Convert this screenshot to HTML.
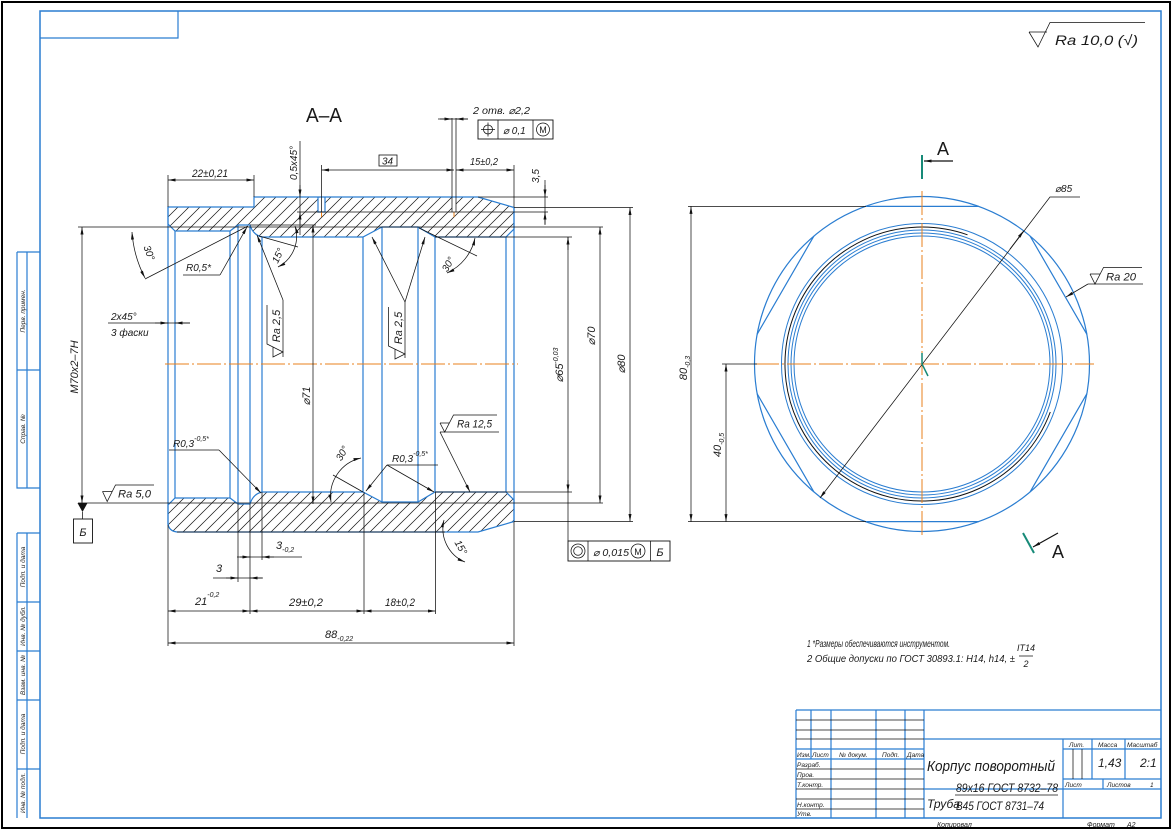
<!DOCTYPE html>
<html><head><meta charset="utf-8"><style>
html,body{margin:0;padding:0;background:#fff;}
svg{display:block;}
text{font-family:"Liberation Sans",sans-serif;font-style:italic;fill:#1a1a1a;}
.up{font-style:normal;}
.b{stroke:#2a7dd1;fill:none;stroke-width:1.2;}
.bt{stroke:#2a7dd1;fill:none;stroke-width:1;}
.k{stroke:#111;fill:none;stroke-width:0.75;}
.o{stroke:#e8801e;fill:none;stroke-width:1;stroke-dasharray:24 3 2 3;}
.t{stroke:#178a78;fill:none;stroke-width:2;}
.d{marker-start:url(#a);marker-end:url(#a);}
.de{marker-end:url(#a);}
.ds{marker-start:url(#a);}
</style></head><body>
<svg width="1172" height="830" viewBox="0 0 1172 830" xmlns="http://www.w3.org/2000/svg">
<defs>
<marker id="a" viewBox="0 0 10 4" refX="10" refY="2" markerWidth="8" markerHeight="3" orient="auto-start-reverse" markerUnits="userSpaceOnUse"><path d="M0,0L10,2L0,4z" fill="#111"/></marker>
<pattern id="h" patternUnits="userSpaceOnUse" width="11" height="11"><path d="M0,11L11,0M-2,2L2,-2M9,13L13,9" stroke="#111" stroke-width="0.7"/></pattern>
</defs>

<!-- frames -->
<rect x="2" y="2" width="1168" height="826" fill="none" stroke="#000" stroke-width="2"/>
<rect x="40" y="11" width="1121" height="807" fill="none" stroke="#2a7dd1" stroke-width="1.5"/>
<polyline points="40,38 178,38 178,11" class="b"/>

<!-- left strip -->
<path class="b" d="M17,252V488H40M17,252H40M27,252V488M17,370H40M17,533V818M17,533H40M27,533V818M17,602H40M17,651H40M17,700H40M17,769H40"/>
<g font-size="6.5">
<text transform="translate(25,311) rotate(-90)" text-anchor="middle">Перв. примен.</text>
<text transform="translate(25,429) rotate(-90)" text-anchor="middle">Справ. №</text>
<text transform="translate(25,567) rotate(-90)" text-anchor="middle">Подп. и дата</text>
<text transform="translate(25,626) rotate(-90)" text-anchor="middle">Инв. № дубл.</text>
<text transform="translate(25,675) rotate(-90)" text-anchor="middle">Взам. инв. №</text>
<text transform="translate(25,734) rotate(-90)" text-anchor="middle">Подп. и дата</text>
<text transform="translate(25,793) rotate(-90)" text-anchor="middle">Инв. № подл.</text>
</g>

<!-- top right Ra -->
<path class="k" stroke-width="0.9" d="M1029,32H1047M1029,32L1038,47L1050,22.5H1145"/>
<text x="1055" y="45" font-size="14" textLength="83" lengthAdjust="spacingAndGlyphs">Ra 10,0 (√)</text>

<!-- ===== SECTION A-A ===== -->
<text class="up" x="306" y="122" font-size="20" textLength="36" lengthAdjust="spacingAndGlyphs">А–А</text>

<path d="M168,207H254V197H478L514,207.5V229L506,237H435L418,227H382L363,237H262Q253,235 250,225H238L230,231H175L168,224Z" fill="url(#h)"/>
<path d="M168,505L175,498H230L238,504H250Q253,494 262,492H363L382,502H418L435,492H506L514,500V521.5L478,532H177Q169,531 168,524Z" fill="url(#h)"/>
<rect x="318" y="197.6" width="7" height="14.4" fill="#fff"/>
<rect x="452" y="197.6" width="4" height="14.4" fill="#fff"/>

<path class="b" d="M168,207H254V197H478L514,207.5V229L506,237H435L418,227H382L363,237H262Q253,235 250,225H238L230,231H175L168,224Z"/>
<path class="b" d="M168,505L175,498H230L238,504H250Q253,494 262,492H363L382,502H418L435,492H506L514,500V521.5L478,532H177Q169,531 168,524Z"/>
<path class="b" d="M168,207V525M175,231V498M230,231V498M238,225V504M250,225V504M262,237V492M363,237V492M382,227V502M418,227V502M435,237V492M506,237V492M514,207.5V521.5"/>
<path class="b" d="M318,197V212H325V197"/>
<path class="k" d="M177,532H445"/>
<path class="o" d="M165,364H518"/>
<path stroke="#e8801e" stroke-width="1" d="M321.5,212V217M454,212V217"/>

<!-- top dims -->
<path class="k" d="M168,175V207M254,175V197"/>
<path class="k d" d="M168,180H254"/>
<text x="192" y="177" font-size="11" textLength="36" lengthAdjust="spacingAndGlyphs">22±0,21</text>

<path class="k" d="M300,141V235"/>
<path class="k de" d="M300,185V197"/>
<path class="k de" d="M300,224V212"/>
<text transform="translate(297,163) rotate(-90)" text-anchor="middle" font-size="10">0,5x45°</text>

<path class="k" d="M321.5,165V212M452,118V212M456,118V212"/>
<path class="k d" d="M321.5,170H454"/>
<rect x="379" y="155" width="18" height="11" fill="none" stroke="#111" stroke-width="0.8"/>
<text x="382" y="164.5" font-size="10">34</text>
<path class="k" d="M514,165V207"/>
<path class="k d" d="M456,170H514"/>
<text x="470" y="165" font-size="10" textLength="28" lengthAdjust="spacingAndGlyphs">15±0,2</text>

<path class="k" d="M478,197H548M297,212H548M514,207.5H633"/>
<path class="k" d="M545,180V225"/>
<path class="k de" d="M545,185V197"/>
<path class="k de" d="M545,224V212"/>
<text transform="translate(539,176) rotate(-90)" text-anchor="middle" font-size="10">3,5</text>

<!-- hole callout -->
<text x="473" y="114" font-size="10" textLength="57" lengthAdjust="spacingAndGlyphs">2 отв. ⌀2,2</text>
<path class="k" d="M438,119H468"/>
<path class="k de" d="M440,119H452"/>
<path class="k de" d="M468,119H456"/>
<rect x="478" y="120" width="75" height="19" fill="none" stroke="#111" stroke-width="0.9"/>
<path class="k" d="M498,120V139M533,120V139"/>
<circle cx="488" cy="129.5" r="4.5" class="k"/>
<path class="k" d="M481,129.5H495M488,122.5V136.5"/>
<text x="503" y="134" font-size="10">⌀ 0,1</text>
<circle cx="543" cy="129.5" r="6.5" class="k"/>
<text x="543" y="133" font-size="9" text-anchor="middle" class="up">M</text>

<!-- M70 & datum -->
<path class="k" d="M78,227H603M78,503H603"/>
<path class="k d" d="M82,227V503"/>
<text transform="translate(78,367) rotate(-90)" text-anchor="middle" font-size="11">M70x2–7H</text>
<path d="M77.5,503H87.5L82.5,512Z" fill="#111"/>
<path class="k" d="M82.5,512V519"/>
<rect x="73.5" y="519" width="19" height="24" fill="none" stroke="#111" stroke-width="0.9"/>
<text x="83" y="536" font-size="11" text-anchor="middle">Б</text>

<!-- Ra 5,0 -->
<path class="k" stroke-width="0.9" d="M102.5,491.5H112M102.5,491.5L107.2,501.5L115.5,485H154"/>
<text x="118" y="497.5" font-size="11" textLength="33" lengthAdjust="spacingAndGlyphs">Ra 5,0</text>

<!-- 2x45 -->
<text x="111" y="320" font-size="10">2x45°</text>
<text x="111" y="336" font-size="10">3 фаски</text>
<path class="k" d="M108,323H190"/>
<path class="k de" d="M155,323H168"/>
<path class="k de" d="M190,323H175"/>

<!-- 30° left -->
<path class="k d" d="M132,232A116,116 0 0 0 145,278"/>
<path class="k" d="M145,279L248,226"/>
<text transform="translate(146,254) rotate(70)" text-anchor="middle" font-size="10">30°</text>
<!-- R0,5* -->
<text x="186" y="271" font-size="10">R0,5*</text>
<path class="k" d="M183,275H220"/>
<path class="k de" d="M220,275L247,227"/>

<!-- 15° top -->
<path class="k" d="M259,236L298,247"/>
<path class="k d" d="M295,226A34.5,34.5 0 0 1 278,267"/>
<text transform="translate(281,257) rotate(-65)" text-anchor="middle" font-size="10">15°</text>

<!-- Ra 2,5 left -->
<path class="k de" d="M283,300L257,235"/>
<path class="k" d="M283,300V357"/>
<path class="k" stroke-width="0.9" d="M273,347V357L283,352L267,344V305"/>
<text transform="translate(280,326) rotate(-90)" text-anchor="middle" font-size="11">Ra 2,5</text>

<!-- Ra 2,5 right -->
<path class="k de" d="M405,302L372,237"/>
<path class="k de" d="M405,302L425,237"/>
<path class="k" d="M405,302V358"/>
<path class="k" stroke-width="0.9" d="M395,349V359L405,354L388.5,346V307"/>
<text transform="translate(402,328) rotate(-90)" text-anchor="middle" font-size="11">Ra 2,5</text>

<!-- 30° right top -->
<path class="k" d="M419,228L477,256"/>
<path class="k d" d="M475,238A50,50 0 0 1 447,273"/>
<text transform="translate(451,266) rotate(-60)" text-anchor="middle" font-size="10">30°</text>

<!-- Ra 12,5 -->
<path class="k" stroke-width="0.9" d="M440,423H449.5M440,423L444.7,432L453.5,415H497"/>
<path class="k" d="M440,432H499"/>
<path class="k de" d="M440,432L470,492"/>
<text x="457" y="427.5" font-size="11" textLength="35" lengthAdjust="spacingAndGlyphs">Ra 12,5</text>

<!-- R0,3 left -->
<text x="173" y="447" font-size="10">R0,3<tspan font-size="7" dy="-6">-0,5*</tspan></text>
<path class="k" d="M169,450H219"/>
<path class="k de" d="M219,450L261,493"/>

<!-- 30° bottom -->
<path class="k" d="M333,475L363,492"/>
<path class="k d" d="M361,458A39,39 0 0 0 331,502"/>
<text transform="translate(345,455) rotate(-60)" text-anchor="middle" font-size="10">30°</text>

<!-- R0,3 middle -->
<text x="392" y="462" font-size="10">R0,3<tspan font-size="7" dy="-6">-0,5*</tspan></text>
<path class="k" d="M387,465H438"/>
<path class="k de" d="M387,465L366,491"/>
<path class="k de" d="M387,465L434,492"/>

<!-- Ø71 -->
<path class="k" d="M250,225H316"/>
<path class="k d" d="M313,225V504"/>
<text transform="translate(310,396) rotate(-90)" text-anchor="middle" font-size="11">⌀71</text>

<!-- Ø65, Ø70, Ø80 -->
<path class="k" d="M435,237H572M435,492H572M514,521.5H633"/>
<path class="k" d="M568,237V541"/>
<path class="k de" d="M568,250V237"/>
<path class="k de" d="M568,480V492"/>
<text transform="translate(563,365) rotate(-90)" text-anchor="middle" font-size="11">⌀65<tspan font-size="7" dy="-5">-0,03</tspan></text>
<path class="k d" d="M600,227V503"/>
<text transform="translate(595,336) rotate(-90)" text-anchor="middle" font-size="11">⌀70</text>
<path class="k d" d="M630,207.5V521.5"/>
<text transform="translate(625,364) rotate(-90)" text-anchor="middle" font-size="11">⌀80</text>

<!-- bottom FCF -->
<rect x="568" y="541" width="102" height="20" fill="none" stroke="#111" stroke-width="0.9"/>
<path class="k" d="M588,541V561M650.5,541V561"/>
<circle cx="578" cy="551" r="7" class="k"/>
<circle cx="578" cy="551" r="4.3" class="k"/>
<text x="593" y="556" font-size="10" textLength="36" lengthAdjust="spacingAndGlyphs">⌀ 0,015</text>
<circle cx="638" cy="551" r="7" class="k"/>
<text x="638" y="555" font-size="9" text-anchor="middle" class="up">M</text>
<text x="660" y="556" font-size="11" text-anchor="middle">Б</text>

<!-- 15° bottom -->
<path class="k d" d="M444,520A36,36 0 0 0 465,562"/>
<text transform="translate(458,549) rotate(60)" text-anchor="middle" font-size="10">15°</text>

<!-- bottom dims -->
<path class="k" d="M168,525V646M238,504V582M250,504V614M262,492V560M364,492V614M435.5,492V614M514,521.5V646"/>
<path class="k d" d="M168,611H250"/>
<path class="k d" d="M250,611H364"/>
<path class="k d" d="M364,611H435.5"/>
<path class="k d" d="M168,643H514"/>
<text x="195" y="605" font-size="11">21<tspan font-size="7" dy="-8">-0,2</tspan></text>
<text x="289" y="606" font-size="11" textLength="34" lengthAdjust="spacingAndGlyphs">29±0,2</text>
<text x="385" y="606" font-size="11" textLength="30" lengthAdjust="spacingAndGlyphs">18±0,2</text>
<text x="325" y="638" font-size="11">88<tspan font-size="7" dy="3">-0,22</tspan></text>
<path class="k" d="M213,578H263"/>
<path class="k de" d="M226,578H238"/>
<path class="k de" d="M262,578H250"/>
<text x="216" y="572" font-size="11">3</text>
<path class="k" d="M237,557H302"/>
<path class="k de" d="M240,557H250"/>
<path class="k de" d="M274,557H262"/>
<text x="276" y="549" font-size="11">3<tspan font-size="7" dy="3">-0,2</tspan></text>

<!-- ===== CIRCLE VIEW ===== -->
<circle cx="922" cy="364" r="167.5" class="b"/>
<path class="b" d="M865.3,206.4H978.7M1030.1,236.1L1086.9,334.3M1086.9,393.7L1030.1,491.9M978.7,521.6H865.3M813.9,491.9L757.1,393.7M757.1,334.3L813.9,236.1"/>
<circle cx="922" cy="364" r="140.5" class="bt"/>
<circle cx="922" cy="364" r="134" class="bt"/>
<circle cx="922" cy="364" r="131" class="bt"/>
<circle cx="922" cy="364" r="128" class="bt"/>
<path stroke="#111" fill="none" stroke-width="1" d="M1050.3,412A137,137 0 1 1 967.5,234.8"/>
<path class="o" d="M755,364H1094M922,191V537"/>

<!-- 80 and 40 dims -->
<path class="k" d="M688,206.4H866M688,521.6H866M722,364H757"/>
<path class="k d" d="M691,206.4V521.6"/>
<text transform="translate(687,368) rotate(-90)" text-anchor="middle" font-size="11">80<tspan font-size="7" dy="3">-0,3</tspan></text>
<path class="k d" d="M726,364V521.6"/>
<text transform="translate(721,445) rotate(-90)" text-anchor="middle" font-size="11">40<tspan font-size="7" dy="3">-0,5</tspan></text>

<!-- Ø85 -->
<path class="k ds" d="M820,498L1050,197H1080"/>
<path class="k de" d="M1010,249L1023.7,230.8"/>
<text x="1055" y="192" font-size="10">⌀85</text>

<!-- Ra 20 -->
<path class="k" stroke-width="0.9" d="M1090,274H1100M1090,274L1095,284L1103.5,267.5H1142"/>
<path class="k" d="M1088,284H1143"/>
<path class="k de" d="M1088,284L1066,297"/>
<text x="1106" y="280.5" font-size="11" textLength="30" lengthAdjust="spacingAndGlyphs">Ra 20</text>

<!-- section marks -->
<path class="t" d="M922,155V179"/>
<path stroke="#111" stroke-width="1.2" class="de" d="M953,161H924"/>
<text class="up" x="937" y="155" font-size="18">А</text>
<path class="t" d="M1023,533L1034,553"/>
<path stroke="#111" stroke-width="1.2" class="de" d="M1058,533L1033,547"/>
<text class="up" x="1052" y="558" font-size="18">А</text>
<path stroke="#178a78" stroke-width="1.5" fill="none" d="M922,353V364L928,376"/>

<!-- notes -->
<text x="807" y="647" font-size="10.5" textLength="143" lengthAdjust="spacingAndGlyphs">1  *Размеры обеспечиваются инструментом.</text>
<text x="807" y="662" font-size="10.5" textLength="208" lengthAdjust="spacingAndGlyphs">2  Общие допуски по ГОСТ 30893.1: H14, h14, ±</text>
<text x="1026" y="651" font-size="9" text-anchor="middle">IT14</text>
<path class="k" d="M1019,656H1033"/>
<text x="1026" y="667" font-size="9" text-anchor="middle">2</text>

<!-- ===== TITLE BLOCK ===== -->
<path class="b" d="M796,710H1161M796,710V818M811,710V759M831,710V818M876,710V818M905,710V818M924,710V818"/>
<path class="k" d="M796,720H924M796,730H924M796,739H924M796,769H924M796,779H924M796,789H924M796,799H924M796,809H924"/>
<path class="b" d="M796,749H924M796,759H924"/>
<path class="b" d="M924,739H1161M924,789H1161M1063,739V818M1063,749H1161M1063,779H1161M1092,739V779M1125,739V779M1103,779V789"/>
<path class="k" d="M1073,749V779M1082,749V779"/>
<g font-size="6.5">
<text x="797" y="757">Изм.</text>
<text x="812" y="757">Лист</text>
<text x="839" y="757">№ докум.</text>
<text x="882" y="757">Подп.</text>
<text x="907" y="757">Дата</text>
<text x="797" y="767">Разраб.</text>
<text x="797" y="777">Пров.</text>
<text x="797" y="787">Т.контр.</text>
<text x="797" y="807">Н.контр.</text>
<text x="797" y="816">Утв.</text>
<text x="1069" y="747">Лит.</text>
<text x="1098" y="747">Масса</text>
<text x="1127" y="747">Масштаб</text>
<text x="1065" y="787">Лист</text>
<text x="1107" y="787">Листов</text>
<text x="1150" y="787">1</text>
</g>
<text x="927" y="771" font-size="15" textLength="128" lengthAdjust="spacingAndGlyphs">Корпус поворотный</text>
<text x="1098" y="767" font-size="12">1,43</text>
<text x="1140" y="767" font-size="12">2:1</text>
<text x="927" y="808" font-size="12">Труба</text>
<text x="956" y="792" font-size="12" textLength="102" lengthAdjust="spacingAndGlyphs">89x16 ГОСТ 8732–78</text>
<path class="k" d="M955,795H1058"/>
<text x="956" y="810" font-size="12" textLength="88" lengthAdjust="spacingAndGlyphs">В45 ГОСТ 8731–74</text>
<text x="937" y="827" font-size="7">Копировал</text>
<text x="1087" y="827" font-size="7">Формат</text>
<text x="1127" y="827" font-size="7">А2</text>
</svg>
</body></html>
